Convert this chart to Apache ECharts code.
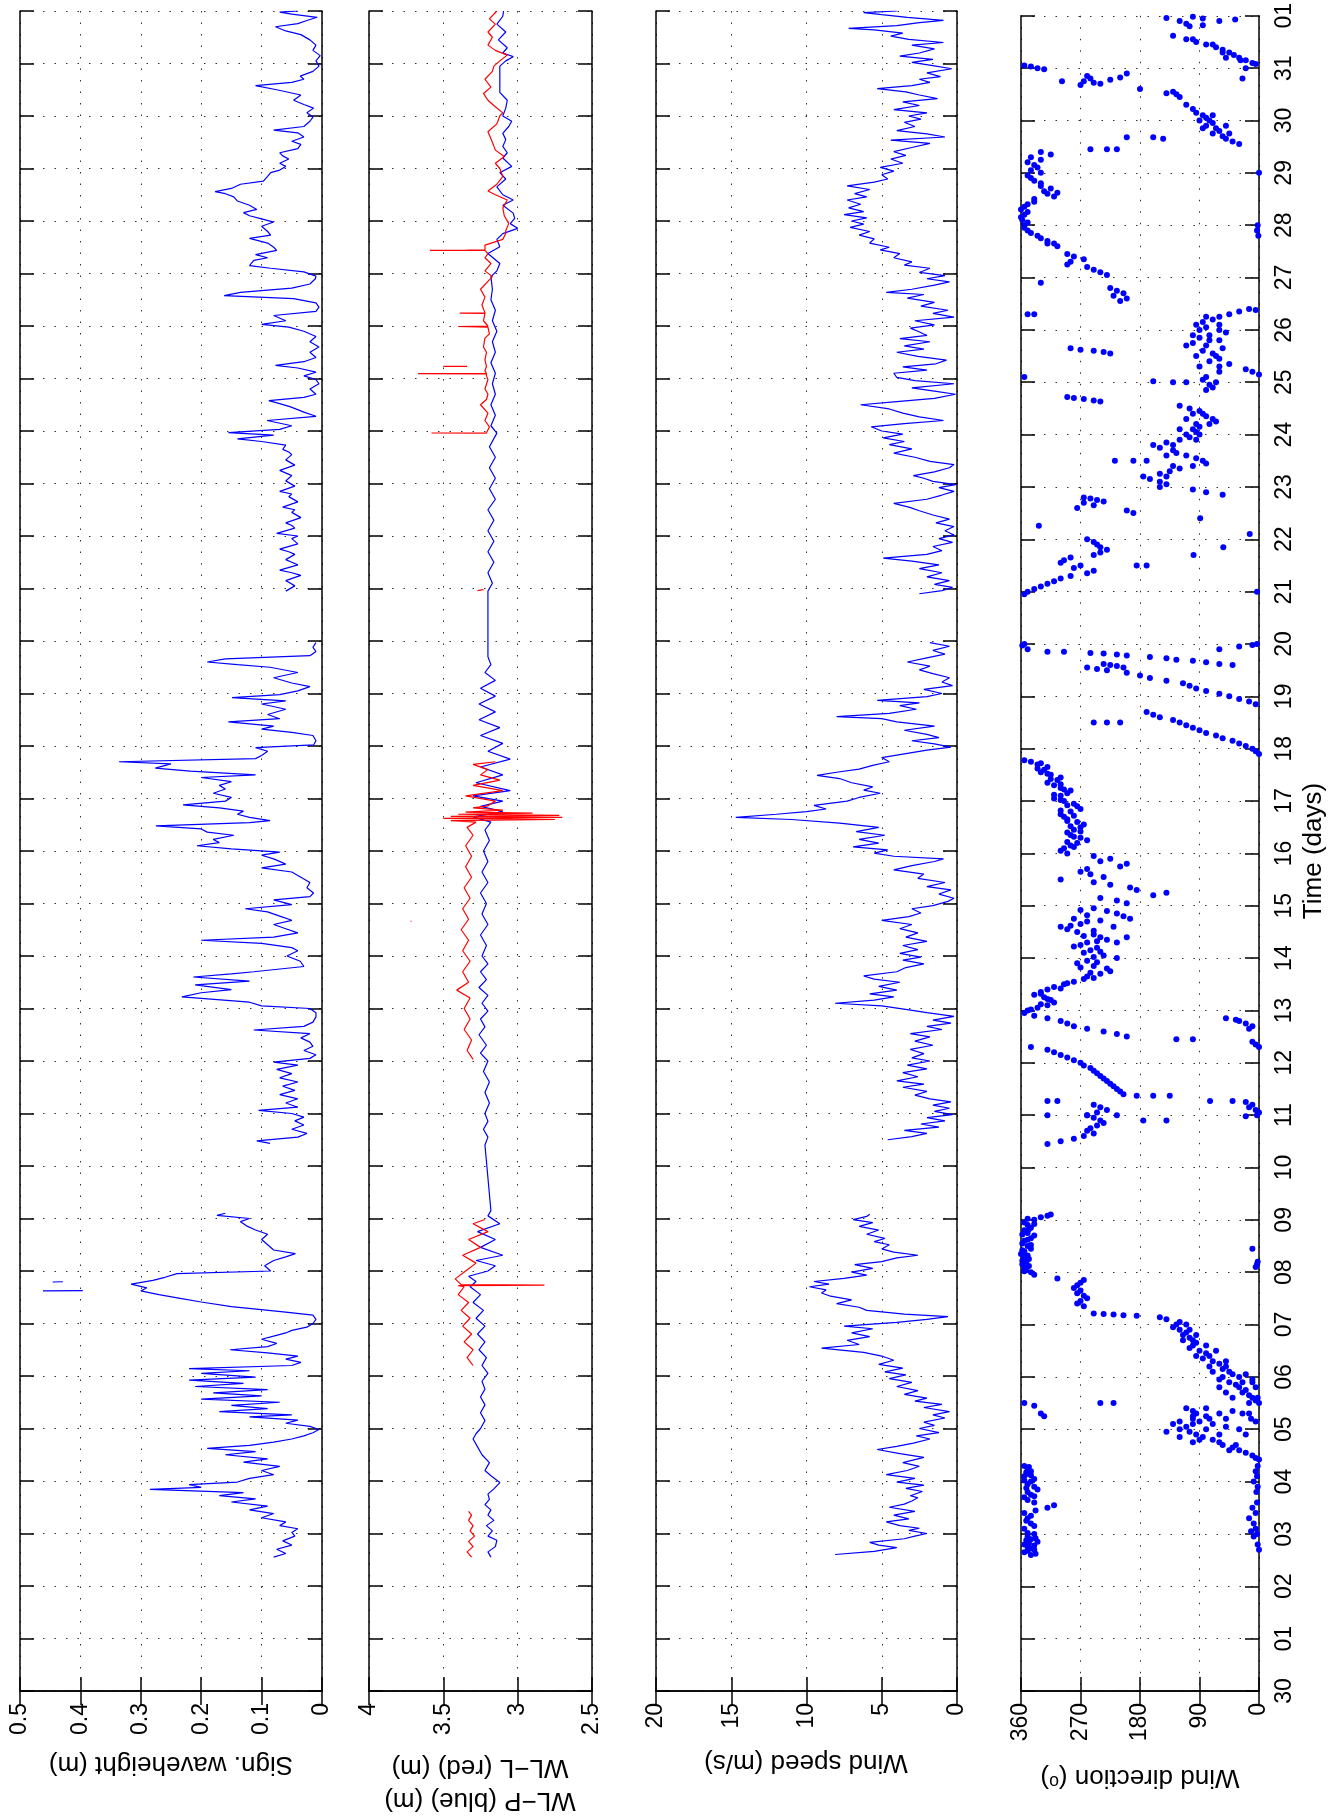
<!DOCTYPE html>
<html><head><meta charset="utf-8">
<script src="https://cdn.jsdelivr.net/npm/echarts@6/dist/echarts.min.js"></script>
<style>html,body{margin:0;padding:0;background:#fff}#c{width:1334px;height:1816px}</style>
</head><body><div id="c"></div>
<script>
// ---- tick labels ----
const timeLabels = ['30','01','02','03','04','05','06','07','08','09','10','11','12','13','14','15','16','17','18','19','20','21','22','23','24','25','26','27','28','29','30','31','01'];
const waveTicks = ['0','0.1','0.2','0.3','0.4','0.5'];
const wlTicks = ['2.5','3','3.5','4'];
const speedTicks = ['0','5','10','15','20'];
const dirTicks = ['0','90','180','270','360'];

// ---- data: [time (days from "30"), value]; null = gap ----
const waveHeight = [[2.55,0.08],[2.62,0.06],[2.70,0.075],[2.78,0.05],[2.86,0.065],[2.95,0.045],[3.02,0.05],[3.09,0.04],[3.15,0.07],[3.22,0.06],[3.30,0.10],[3.38,0.08],[3.45,0.12],[3.52,0.09],[3.60,0.15],[3.66,0.11],[3.72,0.17],[3.78,0.13],[3.84,0.285],[3.88,0.2],[3.93,0.22],[3.98,0.14],[4.05,0.12],[4.12,0.08],[4.20,0.10],[4.28,0.07],[4.36,0.13],[4.42,0.09],[4.50,0.16],[4.56,0.11],[4.62,0.19],[4.68,0.12],[4.74,0.08],[4.80,0.05],[4.86,0.03],[4.92,0.015],[4.98,0.005],[5.04,0.02],[5.10,0.06],[5.16,0.04],[5.22,0.12],[5.26,0.05],[5.32,0.17],[5.38,0.09],[5.44,0.15],[5.50,0.07],[5.56,0.2],[5.62,0.1],[5.68,0.18],[5.74,0.09],[5.80,0.21],[5.86,0.13],[5.92,0.22],[5.98,0.11],[6.05,0.2],[6.10,0.12],[6.14,0.22],[6.20,0.05],[6.26,0.035],[6.32,0.06],[6.38,0.04],[6.44,0.09],[6.50,0.152],[6.56,0.09],[6.62,0.075],[6.70,0.1],[6.76,0.08],[6.82,0.06],[6.87,0.05],[6.93,0.025],[7.00,0.015],[7.08,0.01],[7.16,0.015],[7.22,0.064],[7.32,0.15],[7.41,0.2],[7.48,0.235],[7.55,0.27],[7.62,0.3],[7.68,0.29],[7.75,0.316],[7.82,0.28],[7.88,0.26],[7.95,0.24],[8.0,0.085],[8.1,0.095],[8.2,0.08],[8.27,0.06],[8.33,0.044],[8.4,0.08],[8.5,0.09],[8.6,0.1],[8.7,0.09],[8.78,0.11],[8.86,0.125],[8.94,0.135],[9.0,0.12],[9.06,0.174],[9.1,0.16],null,
[10.43,0.086],[10.48,0.108],[10.55,0.04],[10.62,0.025],[10.70,0.05],[10.78,0.03],[10.86,0.045],[10.93,0.03],[11.00,0.05],[11.06,0.105],[11.12,0.04],[11.2,0.06],[11.28,0.04],[11.36,0.07],[11.44,0.045],[11.52,0.065],[11.6,0.04],[11.68,0.07],[11.76,0.05],[11.84,0.075],[11.92,0.04],[11.98,0.08],[12.05,0.02],[12.12,0.01],[12.2,0.03],[12.28,0.015],[12.36,0.02],[12.44,0.035],[12.52,0.02],[12.59,0.113],[12.66,0.03],[12.74,0.015],[12.84,0.01],[12.92,0.01],[13.0,0.02],[13.05,0.1],[13.12,0.12],[13.22,0.232],[13.3,0.2],[13.36,0.15],[13.45,0.21],[13.52,0.12],[13.6,0.213],[13.66,0.15],[13.7,0.113],[13.8,0.03],[13.9,0.036],[14.0,0.058],[14.1,0.04],[14.16,0.05],[14.24,0.1],[14.3,0.2],[14.36,0.08],[14.44,0.04],[14.52,0.06],[14.6,0.08],[14.68,0.05],[14.76,0.07],[14.84,0.09],[14.9,0.127],[14.98,0.05],[15.07,0.08],[15.13,0.02],[15.2,0.014],[15.3,0.025],[15.4,0.02],[15.5,0.035],[15.6,0.05],[15.68,0.1],[15.75,0.06],[15.85,0.08],[15.92,0.1],[15.98,0.07],[16.04,0.15],[16.1,0.207],[16.16,0.17],[16.22,0.18],[16.3,0.146],[16.36,0.19],[16.42,0.2],[16.48,0.275],[16.54,0.12],[16.58,0.086],[16.64,0.12],[16.7,0.14],[16.76,0.13],[16.82,0.17],[16.88,0.23],[16.95,0.16],[17.02,0.15],[17.1,0.18],[17.18,0.16],[17.25,0.17],[17.32,0.15],[17.4,0.2],[17.45,0.11],[17.52,0.218],[17.58,0.276],[17.66,0.25],[17.7,0.336],[17.76,0.11],[17.82,0.1],[17.9,0.09],[17.97,0.11],[18.02,0.014],[18.1,0.01],[18.2,0.015],[18.26,0.05],[18.32,0.1],[18.38,0.08],[18.46,0.155],[18.52,0.07],[18.6,0.09],[18.7,0.06],[18.8,0.1],[18.86,0.06],[18.92,0.149],[18.98,0.07],[19.05,0.04],[19.13,0.02],[19.2,0.05],[19.3,0.08],[19.4,0.04],[19.5,0.086],[19.55,0.14],[19.6,0.19],[19.66,0.16],[19.72,0.02],[19.8,0.01],[19.88,0.015],[19.97,0.01],null,
[20.95,0.06],[21.05,0.045],[21.12,0.055],[21.15,0.06],[21.25,0.035],[21.3,0.05],[21.35,0.07],[21.45,0.04],[21.5,0.05],[21.55,0.06],[21.65,0.045],[21.7,0.055],[21.75,0.07],[21.85,0.04],[21.95,0.05],[22.0,0.04],[22.05,0.075],[22.15,0.045],[22.2,0.05],[22.25,0.06],[22.35,0.035],[22.45,0.05],[22.5,0.045],[22.55,0.065],[22.65,0.04],[22.75,0.055],[22.8,0.05],[22.85,0.07],[22.95,0.045],[23.05,0.06],[23.1,0.055],[23.15,0.05],[23.25,0.07],[23.35,0.045],[23.45,0.06],[23.55,0.05],[23.6,0.055],[23.65,0.065],[23.73,0.06],[23.8,0.1],[23.85,0.14],[23.92,0.08],[23.97,0.155],[24.03,0.07],[24.1,0.05],[24.2,0.091],[24.28,0.01],[24.36,0.03],[24.46,0.052],[24.52,0.07],[24.58,0.088],[24.64,0.03],[24.7,0.01],[24.8,0.02],[24.9,0.005],[24.98,0.01],[25.05,0.03],[25.12,0.01],[25.2,0.04],[25.25,0.077],[25.32,0.03],[25.4,0.01],[25.5,0.02],[25.6,0.005],[25.7,0.02],[25.8,0.01],[25.9,0.03],[25.98,0.055],[26.03,0.1],[26.1,0.06],[26.2,0.08],[26.28,0.01],[26.36,0.005],[26.44,0.01],[26.52,0.047],[26.58,0.162],[26.64,0.135],[26.72,0.05],[26.8,0.02],[26.9,0.011],[26.95,0.01],[27.03,0.03],[27.1,0.085],[27.15,0.12],[27.25,0.113],[27.3,0.09],[27.36,0.11],[27.44,0.075],[27.5,0.08],[27.58,0.09],[27.67,0.12],[27.73,0.085],[27.8,0.09],[27.9,0.1],[27.98,0.08],[28.04,0.1],[28.1,0.12],[28.16,0.13],[28.22,0.108],[28.3,0.12],[28.38,0.14],[28.46,0.146],[28.52,0.16],[28.56,0.177],[28.62,0.15],[28.7,0.135],[28.76,0.097],[28.85,0.09],[28.92,0.085],[28.97,0.07],[29.04,0.06],[29.1,0.07],[29.18,0.055],[29.24,0.065],[29.3,0.07],[29.38,0.04],[29.46,0.035],[29.52,0.05],[29.6,0.03],[29.68,0.04],[29.73,0.08],[29.8,0.03],[29.9,0.02],[29.98,0.015],[30.06,0.025],[30.15,0.014],[30.22,0.03],[30.3,0.047],[30.4,0.035],[30.5,0.075],[30.58,0.11],[30.64,0.05],[30.7,0.03],[30.76,0.036],[30.85,0.015],[30.95,0.005],[31.05,0.01],[31.15,0.003],[31.25,0.015],[31.35,0.01],[31.45,0.02],[31.55,0.035],[31.62,0.06],[31.7,0.077],[31.76,0.04],[31.82,0.025],[31.88,0.008],[31.94,0.05],[31.98,0.07],[32.0,0.04]];
const waveHeightIsolated = [[7.62,0.462],[7.625,0.396],null,[7.79,0.446],[7.795,0.429]];

const wlP = [[2.55,3.18],[2.65,3.2],[2.75,3.15],[2.87,3.14],[2.95,3.2],[3.05,3.17],[3.15,3.21],[3.25,3.16],[3.35,3.2],[3.45,3.18],[3.55,3.22],[3.65,3.19],[3.75,3.2],[3.85,3.16],[3.97,3.12],[4.1,3.18],[4.2,3.22],[4.35,3.19],[4.5,3.24],[4.65,3.27],[4.8,3.3],[4.9,3.28],[5.0,3.25],[5.15,3.22],[5.3,3.25],[5.45,3.22],[5.6,3.25],[5.75,3.22],[5.9,3.24],[6.05,3.2],[6.2,3.24],[6.35,3.21],[6.5,3.26],[6.65,3.22],[6.8,3.27],[6.95,3.22],[7.1,3.28],[7.25,3.23],[7.4,3.3],[7.55,3.25],[7.7,3.32],[7.8,3.28],[7.9,3.33],[8.0,3.2],[8.1,3.15],[8.2,3.28],[8.3,3.1],[8.45,3.25],[8.6,3.15],[8.75,3.27],[8.9,3.12],[9.05,3.2],[9.15,3.18],[10.4,3.22],[10.55,3.2],[10.7,3.23],[10.85,3.2],[11.0,3.22],[11.2,3.19],[11.4,3.22],[11.6,3.19],[11.8,3.23],[12.0,3.2],[12.15,3.25],[12.3,3.21],[12.5,3.26],[12.65,3.22],[12.8,3.25],[12.95,3.2],[13.1,3.24],[13.25,3.2],[13.4,3.26],[13.55,3.21],[13.7,3.25],[13.85,3.2],[14.0,3.24],[14.2,3.21],[14.4,3.25],[14.6,3.2],[14.8,3.24],[15.0,3.21],[15.2,3.25],[15.4,3.2],[15.6,3.24],[15.8,3.2],[16.0,3.23],[16.2,3.19],[16.4,3.22],[16.55,3.18],[16.65,3.3],[16.75,3.1],[16.85,3.25],[16.95,3.1],[17.05,3.3],[17.15,3.05],[17.3,3.28],[17.45,3.1],[17.6,3.25],[17.75,3.05],[17.9,3.2],[18.05,3.1],[18.2,3.25],[18.35,3.12],[18.5,3.26],[18.65,3.15],[18.8,3.26],[18.95,3.15],[19.1,3.25],[19.25,3.15],[19.4,3.22],[19.55,3.18],[19.7,3.2],[20.0,3.2],[20.5,3.2],[20.95,3.2],[21.1,3.17],[21.3,3.2],[21.5,3.16],[21.7,3.2],[21.9,3.16],[22.1,3.2],[22.3,3.16],[22.5,3.2],[22.7,3.15],[22.9,3.19],[23.1,3.15],[23.3,3.19],[23.5,3.15],[23.7,3.19],[23.96,3.14],[24.1,3.18],[24.3,3.15],[24.5,3.18],[24.7,3.15],[24.9,3.17],[25.1,3.15],[25.3,3.18],[25.5,3.15],[25.7,3.17],[25.9,3.14],[26.1,3.17],[26.3,3.15],[26.5,3.18],[26.7,3.17],[26.94,3.18],[27.05,3.14],[27.19,3.12],[27.38,3.2],[27.51,3.12],[27.65,3.14],[27.76,3.1],[27.86,3.0],[27.95,3.05],[28.05,3.02],[28.15,3.03],[28.3,3.1],[28.4,3.03],[28.5,3.1],[28.65,3.14],[28.8,3.08],[28.92,3.12],[29.04,3.04],[29.2,3.1],[29.3,3.07],[29.42,3.1],[29.55,3.08],[29.67,3.1],[29.8,3.06],[29.9,3.04],[30.0,3.1],[30.15,3.08],[30.3,3.07],[30.45,3.12],[30.62,3.12],[30.8,3.12],[30.95,3.12],[31.05,3.08],[31.13,3.03],[31.2,3.1],[31.3,3.07],[31.45,3.13],[31.6,3.08],[31.75,3.14],[31.9,3.1],[32.0,3.095]];

const wlL = [[2.55,3.31],[2.65,3.34],[2.75,3.3],[2.85,3.33],[2.95,3.29],[3.05,3.32],[3.15,3.3],[3.25,3.33],[3.35,3.31],[3.42,3.33],null,
[6.2,3.3],[6.35,3.34],[6.5,3.3],[6.65,3.36],[6.8,3.31],[6.95,3.37],[7.1,3.32],[7.25,3.38],[7.4,3.33],[7.55,3.4],[7.7,3.36],[7.72,3.4],[7.73,2.82],[7.74,3.38],[7.85,3.42],[8.0,3.35],[8.15,3.28],[8.3,3.37],[8.45,3.25],[8.6,3.33],[8.75,3.2],[8.9,3.3],[8.98,3.22],null,
[12.03,3.3],[12.2,3.34],[12.4,3.31],[12.6,3.36],[12.8,3.32],[13.0,3.36],[13.2,3.32],[13.35,3.41],[13.5,3.33],[13.7,3.37],[13.9,3.32],[14.1,3.37],[14.3,3.33],[14.5,3.38],[14.7,3.33],[14.9,3.37],[15.1,3.32],[15.3,3.36],[15.5,3.31],[15.7,3.35],[15.9,3.31],[16.1,3.35],[16.3,3.3],[16.45,3.34],[16.55,3.28],[16.58,3.45],[16.6,2.75],[16.62,3.5],[16.64,2.7],[16.66,3.45],[16.68,2.72],[16.7,3.4],[16.72,2.9],[16.74,3.35],[16.78,3.1],[16.82,3.3],[16.86,3.2],[16.95,3.15],[17.05,3.35],[17.15,3.1],[17.25,3.3],[17.35,3.12],[17.45,3.25],[17.55,3.2],[17.65,3.3],[17.7,3.15],null,
[20.96,3.27],[20.98,3.23],null,
[23.96,3.21],[23.962,3.58],[23.964,3.21],[24.08,3.19],[24.2,3.22],[24.34,3.2],[24.5,3.25],[24.6,3.21],[24.7,3.2],[24.8,3.22],[24.98,3.2],[25.05,3.21],[25.09,3.21],[25.092,3.67],[25.094,3.21],[25.15,3.22],[25.23,3.21],[25.35,3.22],[25.5,3.21],[25.6,3.23],[25.77,3.22],[25.85,3.19],[25.98,3.2],[25.99,3.40],[26.0,3.2],[26.1,3.23],[26.24,3.22],[26.245,3.39],[26.25,3.22],[26.4,3.24],[26.55,3.22],[26.7,3.25],[26.85,3.2],[26.94,3.17],[27.05,3.22],[27.19,3.18],[27.3,3.22],[27.38,3.2],[27.44,3.22],[27.442,3.59],[27.444,3.34],[27.45,3.22],[27.54,3.22],[27.65,3.1],[27.76,3.08],[27.82,3.08],[27.95,3.06],[28.1,3.09],[28.25,3.1],[28.4,3.07],[28.5,3.15],[28.57,3.2],[28.7,3.14],[28.85,3.1],[29.0,3.12],[29.1,3.15],[29.23,3.09],[29.35,3.15],[29.5,3.17],[29.7,3.2],[29.85,3.14],[30.0,3.12],[30.06,3.1],[30.2,3.16],[30.3,3.2],[30.43,3.23],[30.55,3.18],[30.7,3.22],[30.85,3.17],[30.95,3.16],[31.05,3.12],[31.16,3.07],[31.25,3.15],[31.35,3.2],[31.5,3.17],[31.6,3.2],[31.75,3.15],[31.85,3.19],[32.0,3.14]];
const wlLIsolated = [[25.23,3.5],[25.231,3.34],null,[14.66,3.72],[14.665,3.715]];

const windSpeed = [[2.6,8.1],[2.66,5.5],[2.73,4.0],[2.78,5.2],[2.83,5.8],[2.9,3.5],[2.95,2.8],[3.0,2.0],[3.06,3.2],[3.1,2.5],[3.15,3.8],[3.22,4.7],[3.28,3.2],[3.35,4.2],[3.42,2.8],[3.5,4.5],[3.56,3.5],[3.62,3.0],[3.68,2.6],[3.72,3.1],[3.8,2.3],[3.86,3.4],[3.92,2.2],[3.98,4.0],[4.05,2.8],[4.12,4.7],[4.2,3.3],[4.28,2.5],[4.35,3.6],[4.45,2.2],[4.52,3.8],[4.6,5.3],[4.66,4.0],[4.72,2.9],[4.8,1.8],[4.86,2.7],[4.92,1.2],[5.0,2.5],[5.06,1.5],[5.12,2.2],[5.2,0.8],[5.26,1.6],[5.32,0.5],[5.4,2.2],[5.46,1.0],[5.52,2.8],[5.58,2.0],[5.65,3.5],[5.72,2.6],[5.8,4.0],[5.88,3.0],[5.95,4.5],[6.02,3.4],[6.08,4.8],[6.15,3.6],[6.22,5.2],[6.3,4.2],[6.38,5.0],[6.45,6.2],[6.53,9.0],[6.6,6.5],[6.68,7.3],[6.75,5.8],[6.82,7.0],[6.9,5.6],[6.95,7.5],[7.02,4.0],[7.08,2.0],[7.13,0.6],[7.18,3.5],[7.25,6.0],[7.31,6.5],[7.38,8.0],[7.45,7.0],[7.52,8.4],[7.58,9.0],[7.64,8.7],[7.7,9.8],[7.75,8.5],[7.8,9.5],[7.86,7.5],[7.92,6.0],[7.98,7.0],[8.05,5.6],[8.12,6.8],[8.18,5.0],[8.25,4.0],[8.3,2.6],[8.36,4.2],[8.42,5.0],[8.5,4.5],[8.56,5.5],[8.62,4.8],[8.7,6.0],[8.78,5.2],[8.85,6.5],[8.92,5.6],[8.98,6.9],[9.04,6.0],[9.08,5.8],null,
[10.5,4.6],[10.56,3.0],[10.62,2.0],[10.68,3.5],[10.74,1.2],[10.8,2.4],[10.86,0.8],[10.92,2.0],[10.98,0.3],[11.04,1.5],[11.1,0.5],[11.16,1.6],[11.22,0.4],[11.28,1.8],[11.35,2.8],[11.42,2.0],[11.5,3.6],[11.56,2.2],[11.62,4.0],[11.7,2.6],[11.78,3.6],[11.85,2.0],[11.92,3.3],[12.0,1.8],[12.06,3.0],[12.14,2.2],[12.22,3.1],[12.3,1.6],[12.38,2.8],[12.46,1.8],[12.52,3.1],[12.6,1.0],[12.66,2.0],[12.72,0.4],[12.78,1.6],[12.85,0.2],[12.92,2.0],[12.98,3.3],[13.05,5.0],[13.1,8.1],[13.16,5.5],[13.22,4.2],[13.28,5.8],[13.35,4.0],[13.42,5.2],[13.5,3.8],[13.56,5.5],[13.62,6.2],[13.7,4.0],[13.78,3.4],[13.85,2.2],[13.92,3.6],[13.98,2.4],[14.05,3.8],[14.12,2.6],[14.2,3.6],[14.28,2.0],[14.36,3.4],[14.44,2.6],[14.52,3.8],[14.6,3.0],[14.68,5.0],[14.75,3.2],[14.82,2.4],[14.9,3.0],[14.96,1.6],[15.04,0.6],[15.1,0.2],[15.18,1.2],[15.26,0.4],[15.32,2.0],[15.4,0.8],[15.48,2.6],[15.56,2.2],[15.64,4.2],[15.72,3.0],[15.8,1.5],[15.85,0.9],[15.9,4.2],[15.96,5.5],[16.02,4.6],[16.08,6.9],[16.15,5.2],[16.22,6.5],[16.3,4.8],[16.37,6.7],[16.45,5.2],[16.53,7.8],[16.6,11.0],[16.64,14.7],[16.7,12.0],[16.75,10.0],[16.8,8.7],[16.87,9.5],[16.95,7.3],[17.02,6.5],[17.1,5.1],[17.16,6.2],[17.22,5.6],[17.3,7.0],[17.38,7.8],[17.44,9.3],[17.5,8.0],[17.56,6.5],[17.63,5.6],[17.7,4.5],[17.78,5.0],[17.85,3.5],[17.92,2.0],[17.98,0.4],[18.04,1.5],[18.1,3.0],[18.16,1.2],[18.22,2.0],[18.3,3.5],[18.38,1.5],[18.46,4.0],[18.52,5.0],[18.56,8.0],[18.62,4.5],[18.7,2.7],[18.77,3.8],[18.82,2.5],[18.87,5.3],[18.94,2.0],[19.0,1.0],[19.08,2.2],[19.15,0.3],[19.22,1.0],[19.3,0.5],[19.38,1.6],[19.45,2.5],[19.52,1.8],[19.6,3.3],[19.68,2.0],[19.75,0.8],[19.82,1.6],[19.9,0.5],[19.97,1.8],null,
[20.9,2.5],[20.96,1.0],[21.02,0.3],[21.08,1.5],[21.15,0.5],[21.22,2.0],[21.3,1.0],[21.38,2.5],[21.45,1.2],[21.52,3.0],[21.58,4.9],[21.65,2.0],[21.72,1.0],[21.8,1.6],[21.88,0.3],[21.95,1.2],[22.02,0.2],[22.1,0.8],[22.18,0.2],[22.25,1.4],[22.32,0.5],[22.4,1.6],[22.48,2.5],[22.55,3.2],[22.62,4.2],[22.7,2.0],[22.78,1.0],[22.85,0.2],[22.92,1.2],[22.98,0.1],[23.04,1.6],[23.1,2.2],[23.15,2.9],[23.22,1.5],[23.3,0.5],[23.36,0.2],[23.42,1.8],[23.5,2.8],[23.58,4.2],[23.66,3.0],[23.74,4.5],[23.8,3.5],[23.87,4.9],[23.94,3.6],[24.0,5.0],[24.08,5.7],[24.14,3.5],[24.2,0.9],[24.27,2.5],[24.34,3.6],[24.42,4.5],[24.5,6.4],[24.56,4.0],[24.62,1.5],[24.7,0.1],[24.76,1.5],[24.82,3.0],[24.9,0.2],[24.96,2.8],[25.02,4.0],[25.1,4.2],[25.16,2.0],[25.22,3.6],[25.28,1.4],[25.35,0.7],[25.42,2.6],[25.5,4.0],[25.56,2.2],[25.62,3.5],[25.7,1.8],[25.76,3.8],[25.82,2.0],[25.9,2.6],[25.96,3.1],[26.02,1.5],[26.1,2.8],[26.17,0.2],[26.24,1.6],[26.3,0.6],[26.38,2.4],[26.45,1.5],[26.53,3.3],[26.6,2.2],[26.64,4.7],[26.7,3.0],[26.78,1.5],[26.84,0.5],[26.9,2.0],[26.96,0.8],[27.02,2.5],[27.1,1.8],[27.16,3.5],[27.22,3.0],[27.3,4.2],[27.38,3.8],[27.45,5.1],[27.5,4.5],[27.58,5.8],[27.66,5.5],[27.73,6.5],[27.8,5.8],[27.88,7.1],[27.94,6.2],[28.0,7.0],[28.06,6.0],[28.12,7.5],[28.18,6.2],[28.25,7.2],[28.32,6.4],[28.4,7.3],[28.46,6.0],[28.52,6.8],[28.6,5.8],[28.67,7.3],[28.74,5.5],[28.8,4.6],[28.88,5.0],[28.95,4.2],[29.02,5.1],[29.1,3.6],[29.18,4.4],[29.25,3.4],[29.32,4.2],[29.4,3.0],[29.48,1.8],[29.54,4.4],[29.6,0.8],[29.66,2.0],[29.72,4.0],[29.8,2.8],[29.88,3.5],[29.94,2.4],[30.0,3.2],[30.06,2.0],[30.12,4.2],[30.2,2.5],[30.27,3.6],[30.33,1.3],[30.4,2.5],[30.46,3.4],[30.52,5.3],[30.58,3.0],[30.64,1.8],[30.7,2.5],[30.75,1.1],[30.82,2.0],[30.9,0.35],[30.96,1.6],[31.02,3.0],[31.08,1.6],[31.14,3.8],[31.2,2.5],[31.28,1.5],[31.35,3.0],[31.4,0.9],[31.46,3.2],[31.52,4.4],[31.58,3.6],[31.64,5.5],[31.67,7.2],[31.72,4.0],[31.78,2.5],[31.82,0.9],[31.88,3.3],[31.93,5.0],[31.97,6.2],[32.0,4.0]];

const windDir = [
[2.6,345],[2.65,355],[2.7,340],[2.75,350],[2.8,355],[2.85,335],[2.9,345],[2.95,350],[3.0,340],[3.1,355],[3.2,345],[3.3,350],[3.4,355],[3.5,320],[3.55,310],[3.6,340],[3.7,355],[3.75,345],[3.8,350],[3.85,335],[3.9,340],[3.95,350],[4.0,345],[4.05,340],[4.1,355],[4.15,350],[4.2,345],[4.25,350],[4.3,355],
[2.62,338],[2.68,350],[2.72,345],[2.78,340],[2.82,348],[2.88,352],[2.92,338],[3.02,350],[3.15,340],[3.25,352],[3.35,345],[3.45,338],[3.65,350],[3.72,340],[3.88,352],[4.02,355],[4.12,345],[4.18,352],[4.28,348],
[2.7,0],[2.8,2],[2.95,8],[3.0,3],[3.05,12],[3.1,5],[3.2,8],[3.3,15],[3.4,5],[3.5,10],[3.6,3],[3.8,4],[3.9,2],[4.0,8],[4.1,3],[4.2,5],[4.3,2],
[4.42,0],[4.45,5],[4.5,10],[4.55,20],[4.6,30],[4.65,40],[4.7,55],[4.75,60],[4.8,70],[4.85,85],[4.9,95],[4.95,105],[5.0,120],[5.05,110],[5.1,100],[5.15,90],[5.2,75],[5.25,80],[5.3,95],[5.35,100],[5.4,110],[5.1,130],[4.95,140],[5.2,50],[5.0,30],[5.3,15],[4.9,20],
[4.6,45],[4.7,35],[4.8,90],[4.85,120],[4.9,60],[5.0,80],[5.05,50],[5.1,70],[5.15,120],[5.25,100],[5.3,60],[5.35,40],[5.4,80],[5.2,100],[4.75,100],
[5.5,0],[5.55,5],[5.6,10],[5.65,15],[5.7,25],[5.75,20],[5.8,30],[5.85,35],[5.9,45],[5.95,60],[6.0,55],[6.05,40],[6.1,45],[6.15,55],[6.2,50],[6.25,60],[6.3,70],[6.35,85],[6.4,75],[6.45,80],[6.5,90],[6.55,105],[6.6,100],[6.65,95],[6.7,100],[6.75,105],[6.8,115],[6.85,110],[6.9,120],[6.95,130],[7.0,125],[7.05,120],[7.1,140],[7.14,150],
[5.6,40],[5.7,50],[5.8,60],[5.9,25],[6.0,30],[6.1,70],[6.2,75],[6.3,50],[6.4,95],[6.5,65],[6.6,80],[6.7,115],[6.8,95],[6.9,105],[7.0,110],[6.05,20],[5.95,10],
[5.9,10],[5.8,5],[5.6,2],[5.5,15],[5.3,25],[5.2,12],[5.15,5],[5.5,355],[5.45,340],[5.3,330],[5.25,325],[5.5,220],[5.5,240],
[7.21,250],[7.2,235],[7.19,220],[7.18,205],[7.17,185],
[7.35,265],[7.4,275],[7.45,270],[7.5,260],[7.55,265],[7.6,275],[7.65,270],[7.7,280],[7.75,275],[7.8,270],[7.85,265],[7.88,305],
[7.95,340],[8.0,345],[8.05,352],[8.1,355],[8.15,358],[8.2,352],[8.25,348],[8.3,355],[8.35,360],[8.4,355],[8.45,345],[8.5,350],[8.55,358],[8.6,355],[8.65,345],[8.7,340],[8.75,350],[8.8,355],[8.85,345],[8.9,350],[8.95,355],[9.0,340],[9.05,330],[9.08,320],[9.1,315],
[8.02,355],[8.12,348],[8.22,358],[8.32,350],[8.42,358],[8.52,345],[8.62,350],[8.72,358],[8.82,348],[8.92,340],[9.02,350],
[8.45,10],[8.2,2],[8.15,3],[8.1,5],
[10.45,320],[10.5,300],[10.55,280],[10.6,265],[10.65,250],[10.7,260],[10.75,255],[10.8,245],[10.85,235],[10.9,240],[10.95,250],[11.0,260],[11.05,245],[11.1,230],[11.15,240],[11.2,250],[11.37,185],[11.37,160],[11.37,135],[10.9,175],[10.9,140],
[10.98,20],[11.0,3],[11.05,0],[11.1,5],[11.15,15],[11.2,10],[11.25,20],[11.27,40],[11.27,74],
[11.27,320],[11.27,305],[11.0,320],[11.0,260],[11.0,215],
[11.4,205],[11.45,210],[11.5,215],[11.55,220],[11.6,225],[11.65,230],[11.7,235],[11.75,240],[11.8,245],[11.85,250],[11.9,255],[11.95,265],[12.0,270],[12.05,280],[12.1,290],[12.15,300],[12.2,310],[12.25,320],[12.3,345],
[12.3,0],[12.35,5],[12.4,10],[12.45,125],[12.45,100],
[12.5,200],[12.55,215],[12.6,235],[12.65,260],[12.7,280],[12.75,290],[12.8,300],[12.85,320],[12.9,340],
[12.65,15],[12.7,10],[12.75,20],[12.8,30],[12.82,35],[12.85,50],
[12.95,355],[13.0,350],[13.05,335],[13.1,320],[13.15,310],[13.2,315],[13.25,325],[13.3,340],[13.35,330],[13.4,320],[13.45,310],[13.5,295],[13.55,280],[13.6,265],[13.65,260],[13.7,240],[13.75,225],[13.8,230],[13.85,250],[13.9,275],[13.95,260],[14.0,215],[14.05,235],[14.1,265],[14.15,255],[14.2,245],[14.25,270],[14.3,260],[14.35,230],[14.4,240],[14.45,250],[14.5,275],[14.55,290],[14.6,300],[14.65,270],[14.7,260],[14.75,280],[14.8,205],[14.85,215],[14.9,230],[14.95,250],[14.75,195],[14.3,215],
[13.02,345],[13.12,330],[13.22,320],[13.32,330],[13.42,300],[13.52,290],[13.62,250],[13.72,255],[13.82,270],[13.92,245],[14.02,250],[14.12,240],[14.22,280],[14.32,245],[14.42,265],[14.52,250],[14.62,285],[14.72,240],[14.82,260],[14.92,270],[14.4,200],[14.6,220],
[15.05,200],[15.1,215],[15.15,240],[15.2,160],[15.25,140],[15.3,185],[15.35,195],[15.4,225],[15.45,250],[15.5,300],[15.55,235],[15.6,255],[15.65,270],[15.7,260],[15.75,210],[15.8,200],[15.85,240],[15.9,225],[15.95,250],[16.0,290],
[16.05,300],[16.1,295],[16.15,285],[16.2,275],[16.25,260],[16.3,270],[16.35,285],[16.4,290],[16.45,280],[16.5,270],[16.55,265],[16.6,275],[16.65,290],[16.7,295],[16.75,300],[16.8,285],[16.85,270],[16.9,275],[16.95,280],[17.0,295],[17.05,310],[17.1,300],[17.15,290],[17.2,285],[17.25,300],[17.3,310],[17.35,320],[17.4,305],[17.45,300],[17.5,315],[17.55,330],[17.6,325],[17.65,320],[17.7,335],[17.75,345],[17.78,355],
[16.12,280],[16.22,290],[16.32,280],[16.42,270],[16.52,285],[16.62,290],[16.72,280],[16.82,300],[16.92,290],[17.02,300],[17.12,310],[17.22,295],[17.32,300],[17.42,315],[17.52,320],[17.62,335],[17.72,330],
[17.9,0],[17.95,5],[18.0,10],[18.05,20],[18.1,30],[18.15,40],[18.2,55],[18.25,65],[18.3,80],[18.35,90],[18.4,100],[18.45,110],[18.5,120],[18.55,130],[18.6,150],[18.65,160],[18.7,170],[18.5,250],[18.5,230],[18.5,210],
[18.85,5],[18.9,15],[18.95,30],[19.0,45],[19.05,60],[19.1,80],[19.15,95],[19.2,105],[19.25,115],[19.3,140],[19.35,165],[19.4,180],[19.45,200],[19.5,230],[19.52,245],[19.55,260],[19.6,40],[19.62,60],[19.65,80],[19.68,100],[19.7,125],[19.73,140],[19.75,165],[19.78,200],[19.8,215],[19.82,235],[19.83,255],[19.85,295],[19.85,320],[19.6,225],[19.58,215],[19.55,205],[19.62,235],
[19.9,350],[19.97,358],[20.0,355],[19.9,60],[19.95,30],[19.98,10],[20.0,3],
[20.95,355],[21.0,350],[21.05,340],[21.1,330],[21.15,320],[21.2,310],[21.25,300],[21.3,285],[21.35,260],[21.4,250],[21.45,280],[21.5,270],[21.55,300],[21.6,295],[21.65,285],[21.7,250],[21.75,240],[21.8,230],[21.85,240],[21.9,245],[21.95,250],[22.0,260],[21.5,170],[21.5,185],
[21.0,3],[21.7,99],[21.85,54],[22.1,14],[22.4,89],[22.26,333],
[22.5,190],[22.55,200],[22.6,275],[22.65,250],[22.7,265],[22.72,235],[22.75,245],[22.78,255],[22.8,265],
[22.85,55],[22.9,80],[22.95,100],[23.0,150],[23.05,140],[23.1,150],[23.15,165],[23.2,175],[23.25,150],[23.3,135],[23.35,120],[23.4,100],[23.45,80],[23.5,85],[23.55,95],[23.6,110],[23.65,125],[23.7,130],[23.75,150],[23.8,160],[23.85,140],[23.9,120],[23.95,105],[24.0,110],[24.05,95],[24.1,100],[24.15,90],[24.2,75],[24.25,65],[24.3,70],[24.35,80],[24.4,85],[24.45,90],[24.5,105],[24.55,120],
[23.2,140],[23.4,130],[23.6,140],[23.8,130],[24.0,90],[24.2,95],[24.4,100],[24.1,120],[23.9,95],[24.3,110],
[23.5,218],[23.5,190],[23.5,170],
[24.63,240],[24.65,250],[24.68,265],[24.7,280],[24.72,290],
[24.85,80],[24.9,70],[24.95,75],[25.0,65],[25.05,85],[25.1,355],[25.15,0],[25.2,10],[25.25,20],[25.3,60],[25.35,45],[25.4,75],[25.45,60],[25.5,95],[25.55,70],[25.6,85],[25.65,55],[25.7,110],[25.75,100],[25.8,75],[25.85,90],[25.9,75],[25.95,50],[26.0,60],[26.05,80],[26.1,95],[26.15,85],[26.2,70],[26.25,60],[26.3,45],[26.35,30],[26.38,5],[26.4,15],
[25.1,80],[25.3,90],[25.5,65],[25.7,80],[25.9,100],[26.1,60],[26.25,80],[25.2,60],[25.8,60],[26.0,90],
[25.02,160],[25.0,130],[25.0,110],
[25.55,225],[25.58,235],[25.6,250],[25.62,270],[25.65,285],
[26.3,350],[26.3,340],
[26.55,210],[26.6,200],[26.65,220],[26.7,205],[26.75,215],[26.8,225],[27.05,230],[27.1,240],[27.15,250],[27.2,260],[27.25,290],[27.3,285],[27.35,265],[27.4,280],[27.45,290],[26.9,330],
[27.6,305],[27.65,310],[27.7,320],[27.8,335],[27.9,350],[28.0,355],[28.1,358],[28.2,355],[28.3,360],[28.4,350],[28.5,340],[28.55,310],[28.62,305],[28.7,315],[28.8,330],[28.9,345],[29.0,330],[29.1,335],[29.2,350],[29.3,345],[29.35,315],[29.4,330],
[27.65,320],[27.75,330],[27.85,345],[27.95,355],[28.05,350],[28.15,360],[28.25,350],[28.35,355],[28.45,340],[28.6,320],[28.65,325],[28.75,330],[28.85,340],[28.95,350],[29.05,345],[29.15,340],[29.25,330],
[29.0,0],[28.0,2],[27.9,3],[27.8,1],
[29.45,255],[29.45,230],[29.45,215],
[29.55,30],[29.6,40],[29.65,50],[29.7,55],[29.75,70],[29.8,60],[29.85,65],[29.9,80],[29.95,70],[30.0,75],[30.05,80],[30.1,85],[30.15,95],[30.22,100],[30.3,110],[29.68,200],[29.68,160],[29.65,145],
[29.75,45],[29.85,85],[30.0,90],[30.1,70],[29.9,50],
[30.45,120],[30.5,125],[30.52,140],[30.55,130],
[30.6,180],[30.68,270],[30.7,240],[30.72,250],[30.75,265],[30.78,225],[30.8,255],[30.82,210],[30.85,260],[30.9,200],[30.75,298],
[30.98,325],[31.0,335],[31.03,345],[31.05,355],[31.08,5],[31.1,10],[31.15,20],[31.2,30],[31.25,38],[31.3,45],[31.35,55],[31.4,65],[31.45,80],[31.5,95],[31.55,110],[31.62,130],[31.0,20],[30.8,25],[31.2,50],
[31.15,28],[31.3,55],[31.45,70],[31.55,100],
[31.8,105],[31.82,85],[31.85,110],[31.9,120],[31.93,36],[31.9,60],[31.95,85],[31.96,140],[31.98,100]];

// ---- helpers ----
const toXY = arr => arr.map(p => p ? [p[1], p[0]] : ['-', '-']);
const FONT = 'Liberation Sans, Arial, Helvetica, sans-serif';
const grids = [
  {left: 20, top: 11, width: 302, height: 1680},
  {left: 369, top: 11, width: 223, height: 1680},
  {left: 656, top: 11, width: 301, height: 1680},
  {left: 1021, top: 11, width: 238, height: 1680}
];
const lineBlk = {color: '#000', width: 1.5};
const dotted = {color: '#333', width: 1, type: [1.5, 10]};
function valueAxes(g, min, max, interval, ticks) {
  const fmt = v => { const i = Math.round((v - min) / interval); return ticks[i]; };
  return [
    {type: 'value', gridIndex: g, min, max, interval, inverse: true, position: 'bottom',
     axisLine: {show: true, lineStyle: lineBlk}, axisTick: {show: true, inside: true, length: 14, lineStyle: lineBlk},
     axisLabel: {show: true, rotate: 90, margin: 12, fontSize: 23, fontFamily: FONT, color: '#000', formatter: fmt},
     splitLine: {show: true, lineStyle: dotted}},
    {type: 'value', gridIndex: g, min, max, interval, inverse: true, position: 'top',
     axisLine: {show: true, lineStyle: lineBlk}, axisTick: {show: true, inside: true, length: 14, lineStyle: lineBlk},
     axisLabel: {show: false}, splitLine: {show: false}}
  ];
}
function timeAxes(g, labels) {
  return [
    {type: 'value', gridIndex: g, min: 0, max: 32, interval: 1, position: 'left',
     axisLine: {show: true, onZero: false, lineStyle: lineBlk}, axisTick: {show: true, inside: true, length: 14, lineStyle: lineBlk},
     axisLabel: {show: false}, splitLine: {show: true, lineStyle: dotted}},
    {type: 'value', gridIndex: g, min: 0, max: 32, interval: 1, position: 'right',
     axisLine: {show: true, onZero: false, lineStyle: lineBlk}, axisTick: {show: true, inside: true, length: 14, lineStyle: lineBlk},
     axisLabel: {show: labels, rotate: 90, margin: 14, fontSize: 23, fontFamily: FONT, color: '#000',
                 formatter: v => timeLabels[Math.round(v)]},
     splitLine: {show: false}}
  ];
}
const xAxis = [].concat(
  valueAxes(0, 0, 0.5, 0.1, waveTicks),
  valueAxes(1, 2.5, 4, 0.5, wlTicks),
  valueAxes(2, 0, 20, 5, speedTicks),
  valueAxes(3, 0, 360, 90, dirTicks)
);
const yAxis = [].concat(timeAxes(0, false), timeAxes(1, false), timeAxes(2, false), timeAxes(3, true));
const lineS = (g, data, color) => ({type: 'line', xAxisIndex: 2 * g, yAxisIndex: 2 * g, data: toXY(data),
  showSymbol: false, symbol: 'none', connectNulls: false, silent: true, animation: false,
  lineStyle: {color, width: 1.2}, itemStyle: {color}});

const title = (text, x, y, rot) => ({type: 'text', x, y, rotation: rot, silent: true,
  style: {text, font: '26px ' + FONT, fill: '#000', textAlign: 'center', align: 'center', textVerticalAlign: 'middle', verticalAlign: 'middle'}});

const chart = echarts.init(document.getElementById('c'), null, {renderer: 'canvas'});
chart.setOption({
  backgroundColor: '#fff',
  animation: false,
  grid: grids,
  xAxis, yAxis,
  series: [
    lineS(0, waveHeight, '#0000ff'),
    lineS(0, waveHeightIsolated, '#0000ff'),
    lineS(1, wlP, '#0000ff'),
    lineS(1, wlL, '#ff0000'),
    lineS(1, wlLIsolated, '#ff0000'),
    lineS(2, windSpeed, '#0000ff'),
    {type: 'scatter', xAxisIndex: 6, yAxisIndex: 6, data: toXY(windDir), symbolSize: 6, silent: true, animation: false,
     itemStyle: {color: '#0000ff', opacity: 1}}
  ],
  graphic: [
    title('Sign. waveheight (m)', 171, 1764, Math.PI),
    title('WL\u2212L (red) (m)', 480, 1767, Math.PI),
    title('WL\u2212P (blue) (m)', 480, 1800, Math.PI),
    title('Wind speed (m/s)', 806, 1762, Math.PI),
    title('Wind direction (\u1D52)', 1140, 1777, Math.PI),
    title('Time (days)', 1314, 851, Math.PI / 2)
  ]
});
</script></body></html>
